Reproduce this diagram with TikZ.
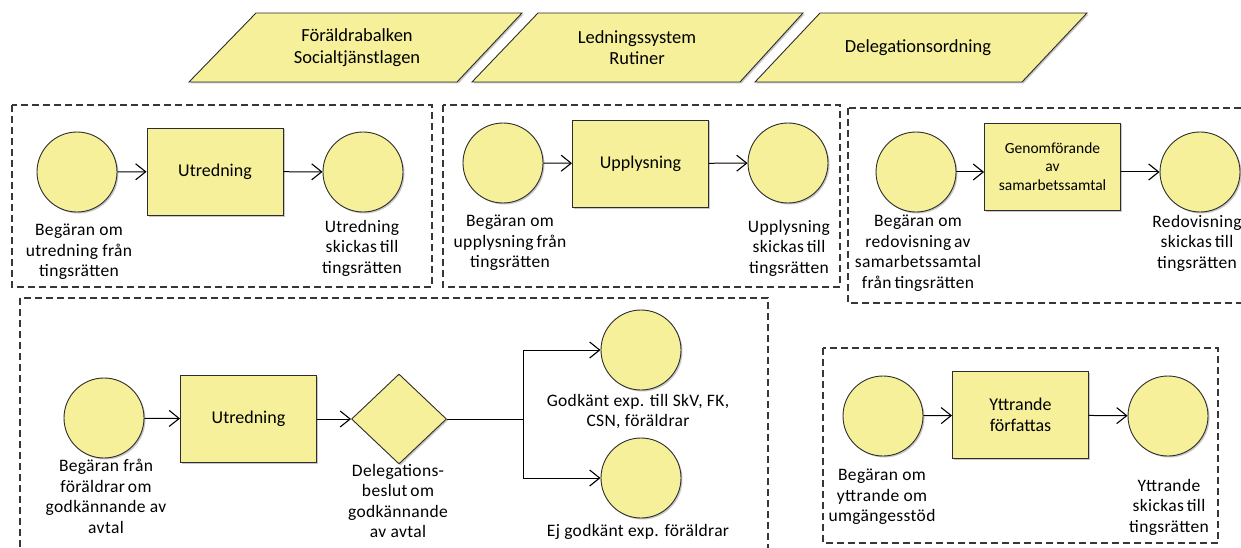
\documentclass[tikz,border=0pt]{standalone}
\usepackage{fontspec}
\setmainfont{Carlito}
\usetikzlibrary{arrows.meta,shapes.geometric,shadows}
\definecolor{flowfill}{RGB}{246,240,155}
\definecolor{edgegray}{RGB}{45,45,45}
\definecolor{framegray}{RGB}{55,55,55}
\tikzset{
  shapeline/.style={draw=edgegray, line width=0.9pt, fill=flowfill,
    drop shadow={shadow xshift=1.5pt, shadow yshift=-1.5pt, opacity=0.22, fill=black}},
  event/.style={shapeline, circle, minimum size=80pt, inner sep=0pt},
  task/.style={shapeline, rectangle, minimum width=136pt, minimum height=87pt,
    inner sep=2pt, align=center, font=\fontsize{18}{21}\selectfont},
  smalltask/.style={task, font=\fontsize{15.5}{18.5}\selectfont},
  gate/.style={shapeline, diamond, minimum width=95pt, minimum height=90pt, inner sep=0pt},
  ruletext/.style={align=center, inner sep=0pt, font=\fontsize{18.5}{21.5}\selectfont},
  caption/.style={anchor=north, align=center, inner sep=0pt,
    font=\fontsize{17.5}{20.5}\selectfont\addfontfeature{LetterSpace=2}},
  group/.style={draw=framegray, line width=1.1pt, dash pattern=on 7pt off 4pt},
  flow/.style={draw=black, line width=1pt,
    -{Straight Barb[length=10pt,width=16pt,line width=1.1pt]}},
}
\begin{document}
\begin{tikzpicture}[x=1pt, y=-1pt]
\useasboundingbox (0,0) rectangle (1241,548);
\clip (0,0) rectangle (1241,548);

% governing documents (slanted data shapes)
\path[shapeline] (189,82) -- (256,13) -- (522,13) -- (457,82) -- cycle;
\path[shapeline] (472,82) -- (538,13) -- (803,13) -- (740,82) -- cycle;
\path[shapeline] (755,82) -- (820,13) -- (1087,13) -- (1022,82) -- cycle;
\node[ruletext] (law)  at (357,47.5) {Föräldrabalken\\Socialtjänstlagen};
\node[ruletext] (mgmt) at (637,47.5) {Ledningssystem\\Rutiner};
\node[ruletext] (dele) at (918,47.5) {Delegationsordning};

% group frames
\draw[group] (12,105) rectangle (432,287);
\draw[group] (443,105) rectangle (840,287);
\draw[group] (848,108) rectangle (1262,303);
\draw[group] (20,298) rectangle (768,562);
\draw[group] (823,348) rectangle (1218,543);

% utredning
\node[event] (c1a) at (77,172) {};
\node[task]  (t1)  at (215,171.5) {Utredning};
\node[event] (c1b) at (363,172) {};
\node[caption] (l1a) at (79,224)  {Begäran om\\utredning från\\tingsrätten};
\node[caption] (l1b) at (362,220) {Utredning\\skickas\,till\\tingsrätten};
\draw[flow] (c1a) -- (t1);
\draw[flow] (t1) -- (c1b);

% upplysning
\node[event] (c2a) at (503,163) {};
\node[task]  (t2)  at (640.5,163.5) {Upplysning};
\node[event] (c2b) at (788,163) {};
\node[caption] (l2a) at (510,215) {Begäran om\\upplysning\,från\\tingsrätten};
\node[caption] (l2b) at (789,220) {Upplysning\\skickas\,till\\tingsrätten};
\draw[flow] (c2a) -- (t2);
\draw[flow] (t2) -- (c2b);

% samarbetssamtal
\node[event]     (c3a) at (916,172) {};
\node[smalltask] (t3)  at (1052.5,166.5) {Genomförande\\av\\samarbetssamtal};
\node[event]     (c3b) at (1200,172) {};
\node[caption] (l3a) at (918,215)  {Begäran om\\redovisning\,av\\samarbetssamtal\\från\,tingsrätten};
\node[caption] (l3b) at (1197,215) {Redovisning\\skickas\,till\\tingsrätten};
\draw[flow] (c3a) -- (c3a -| t3.west);
\draw[flow] (c3b -| t3.east) -- (c3b);

% godkännande av avtal
\node[event] (c4a) at (104,418) {};
\node[task]  (t4)  at (248.5,419) {Utredning};
\node[gate]  (d4)  at (399,419) {};
\coordinate  (j4)  at (523,419);
\node[event] (c4b) at (641,350) {};
\node[event] (c4c) at (641,478) {};
\node[caption] (l4a) at (106,459) {Begäran från\\föräldrar\,om\\godkännande av\\avtal};
\node[caption] (l4d) at (398,464) {Delegations-\\beslut\,om\\godkännande\\av avtal};
\node[caption] (l4b) at (638,394) {Godkänt exp. till SkV, FK,\\CSN, föräldrar};
\node[caption] (l4c) at (638,524) {Ej godkänt exp. föräldrar};
\draw[flow] (c4a) -- (t4);
\draw[flow] (t4) -- (d4);
\draw[flow] (d4.east) -- (j4) |- (c4b.west);
\draw[flow] (d4.east) -- (j4) |- (c4c.west);

% umgängesstöd
\node[event] (c5a) at (883,416) {};
\node[task]  (t5)  at (1020.5,415) {Yttrande\\författas};
\node[event] (c5b) at (1168,416) {};
\node[caption] (l5a) at (882,469)  {Begäran om\\yttrande om\\umgängesstöd};
\node[caption] (l5b) at (1169,479) {Yttrande\\skickas\,till\\tingsrätten};
\draw[flow] (c5a) -- (t5);
\draw[flow] (t5) -- (c5b);
\end{tikzpicture}
\end{document}
